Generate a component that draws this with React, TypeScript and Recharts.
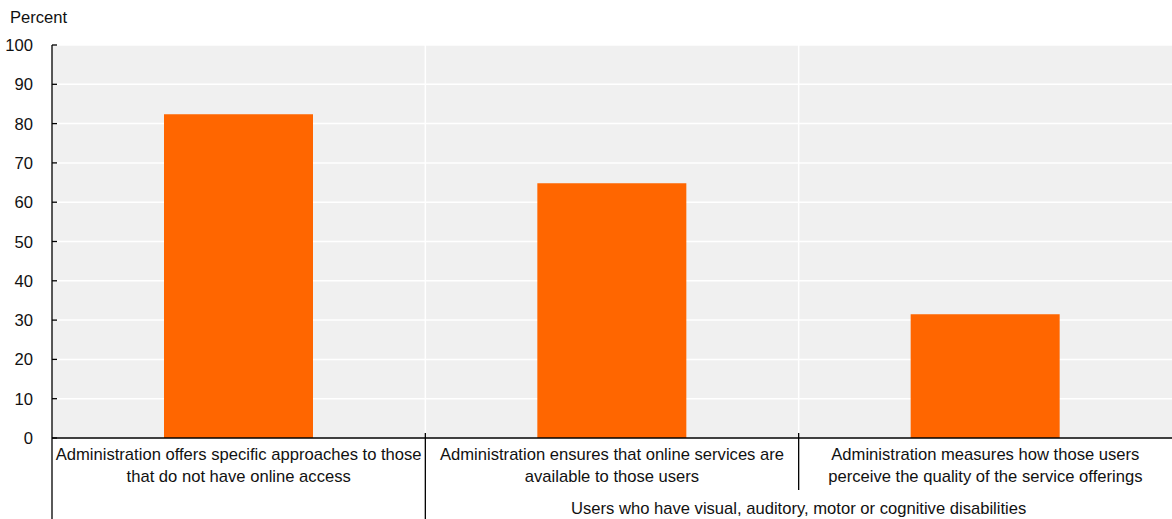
import React from 'react';
import { BarChart, Bar, XAxis, YAxis, CartesianGrid } from 'recharts';

const categories = [
  ['Administration offers specific approaches to those', 'that do not have online access'],
  ['Administration ensures that online services are', 'available to those users'],
  ['Administration measures how those users', 'perceive the quality of the service offerings'],
];
const values = [82.4, 64.8, 31.5];
const yTicks = [0, 10, 20, 30, 40, 50, 60, 70, 80, 90, 100];
const groupLabel = 'Users who have visual, auditory, motor or cognitive disabilities';

const data = categories.map((lines, i) => ({ name: String(i), value: values[i] }));

const W = 1172;
const H = 519;
const Y_AXIS_W = 52;
const M = { top: 45, right: 0, left: 0, bottom: 0 };
const X_AXIS_H = 81;
const FONT = '"Liberation Sans", Arial, sans-serif';
const FS = 16.6;
const halfBand = (W - Y_AXIS_W - M.right) / categories.length / 2;

const XTick = (props: any) => {
  const { x, y, index } = props;
  const lines = categories[index] || [];
  const left = x - halfBand;
  // divider on the left side of each category
  const divBottom = index === 2 ? 490 : H;
  return (
    <g>
      <line x1={left} x2={left} y1={index === 0 ? y : y - 5} y2={divBottom} stroke="#000" strokeWidth={1.3} />
      {lines.map((t, i) => (
        <text key={i} x={x} y={y + 22 + i * 22} textAnchor="middle" fontSize={FS} fill="#111" fontFamily={FONT}>
          {t}
        </text>
      ))}
      {index === 1 && (
        <text x={x + halfBand} y={y + 76} textAnchor="middle" fontSize={FS} fill="#111" fontFamily={FONT}>
          {groupLabel}
        </text>
      )}
    </g>
  );
};

const YTick = (props: any) => {
  const { x, y, payload } = props;
  return (
    <g>
      <line x1={x} x2={x + 5} y1={y} y2={y} stroke="#000" strokeWidth={1.3} />
      <text x={x - 19} y={y + 6} textAnchor="end" fontSize={FS} fill="#111" fontFamily={FONT}>
        {payload.value}
      </text>
    </g>
  );
};

export default function App() {
  return (
    <div style={{ position: 'absolute', left: 0, top: 0, width: W, height: H, background: '#fff' }}>
      <div style={{ position: 'absolute', left: 10, top: 8, fontFamily: FONT, fontSize: FS, color: '#111' }}>
        Percent
      </div>
      <BarChart width={W} height={H} data={data} margin={M} barCategoryGap="30%">
        <CartesianGrid
          fill="#f0f0f0"
          stroke="#fff"
          strokeWidth={1.5}
          verticalCoordinatesGenerator={({ offset }: any) => [
            offset.left + offset.width / 3,
            offset.left + (2 * offset.width) / 3,
          ]}
        />
        <XAxis
          dataKey="name"
          height={X_AXIS_H}
          tickLine={false}
          tickSize={0}
          tickMargin={0}
          interval={0}
          axisLine={{ stroke: '#000', strokeWidth: 1.3 }}
          tick={<XTick />}
        />
        <YAxis
          domain={[0, 100]}
          ticks={yTicks}
          width={Y_AXIS_W}
          tickLine={false}
          tickSize={0}
          tickMargin={0}
          axisLine={{ stroke: '#000', strokeWidth: 1.3 }}
          tick={<YTick />}
        />
        <Bar dataKey="value" fill="#ff6600" isAnimationActive={false} />
      </BarChart>
    </div>
  );
}
